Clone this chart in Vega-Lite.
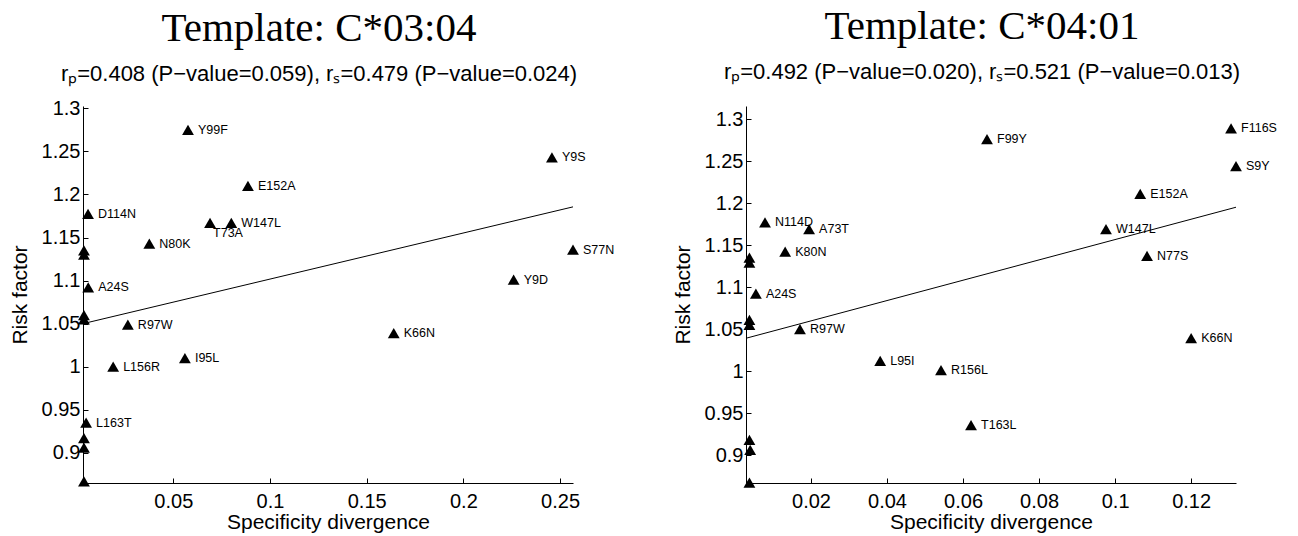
{
  "$schema": "https://vega.github.io/schema/vega-lite/v6.json",
  "background": "white",
  "padding": {"left": 9, "top": 6, "right": 5, "bottom": 5},
  "bounds": "flush",
  "spacing": 173,
  "datasets": {
    "pts1": [
      {"label": "Y99F", "x": 0.0576, "y": 1.275},
      {"label": "E152A", "x": 0.0886, "y": 1.210},
      {"label": "D114N", "x": 0.0059, "y": 1.1775},
      {"label": "T73A", "x": 0.069, "y": 1.167},
      {"label": "W147L", "x": 0.080, "y": 1.167},
      {"label": "N80K", "x": 0.0376, "y": 1.143},
      {"label": "", "x": 0.0038, "y": 1.135},
      {"label": "", "x": 0.0038, "y": 1.130},
      {"label": "A24S", "x": 0.006, "y": 1.092},
      {"label": "Y9S", "x": 0.2458, "y": 1.243},
      {"label": "S77N", "x": 0.2567, "y": 1.136},
      {"label": "Y9D", "x": 0.226, "y": 1.101},
      {"label": "", "x": 0.0038, "y": 1.060},
      {"label": "", "x": 0.0038, "y": 1.055},
      {"label": "R97W", "x": 0.0265, "y": 1.049},
      {"label": "L156R", "x": 0.0189, "y": 1.000},
      {"label": "I95L", "x": 0.056, "y": 1.010},
      {"label": "L163T", "x": 0.0049, "y": 0.935},
      {"label": "", "x": 0.0038, "y": 0.917},
      {"label": "", "x": 0.0038, "y": 0.906},
      {"label": "", "x": 0.0038, "y": 0.867},
      {"label": "K66N", "x": 0.164, "y": 1.039}
    ],
    "line1": [
      {"x": 0.0033, "y": 1.050},
      {"x": 0.2567, "y": 1.1856}
    ],
    "pts2": [
      {"label": "N114D", "x": 0.0079, "y": 1.177},
      {"label": "A73T", "x": 0.0195, "y": 1.169},
      {"label": "K80N", "x": 0.0132, "y": 1.142},
      {"label": "", "x": 0.0038, "y": 1.135},
      {"label": "", "x": 0.0038, "y": 1.129},
      {"label": "A24S", "x": 0.0055, "y": 1.092},
      {"label": "F99Y", "x": 0.0663, "y": 1.276},
      {"label": "F116S", "x": 0.1305, "y": 1.289},
      {"label": "S9Y", "x": 0.1318, "y": 1.244},
      {"label": "E152A", "x": 0.1066, "y": 1.211},
      {"label": "W147L", "x": 0.0976, "y": 1.169},
      {"label": "N77S", "x": 0.1084, "y": 1.137},
      {"label": "", "x": 0.0038, "y": 1.061},
      {"label": "", "x": 0.0038, "y": 1.055},
      {"label": "R97W", "x": 0.0171, "y": 1.050},
      {"label": "L95I", "x": 0.0382, "y": 1.012},
      {"label": "R156L", "x": 0.0542, "y": 1.001},
      {"label": "T163L", "x": 0.0621, "y": 0.9356},
      {"label": "", "x": 0.0038, "y": 0.918},
      {"label": "", "x": 0.0040, "y": 0.906},
      {"label": "", "x": 0.0038, "y": 0.867},
      {"label": "K66N", "x": 0.1200, "y": 1.0393}
    ],
    "line2": [
      {"x": 0.0029, "y": 1.039},
      {"x": 0.1318, "y": 1.195}
    ]
  },
  "hconcat": [
    {
      "width": 490,
      "height": 377,
      "title": {
        "text": "Template:  C*03:04",
        "subtitle": "rₚ=0.408 (P−value=0.059), rₛ=0.479 (P−value=0.024)",
        "frame": "group",
        "anchor": "middle",
        "dx": -9,
        "offset": 12
      },
      "encoding": {
        "x": {"field": "x", "type": "quantitative", "scale": {"domain": [0.0033, 0.2567], "nice": false, "zero": false},
              "axis": {"title": "Specificity divergence", "values": [0.05, 0.1, 0.15, 0.2, 0.25], "format": "~g"}},
        "y": {"field": "y", "type": "quantitative", "scale": {"domain": [0.865, 1.3027], "nice": false, "zero": false},
              "axis": {"title": "Risk factor", "values": [0.9, 0.95, 1, 1.05, 1.1, 1.15, 1.2, 1.25, 1.3], "format": "~g"}}
      },
      "layer": [
        {"data": {"name": "line1"}, "mark": {"type": "line", "color": "black", "strokeWidth": 1}},
        {"data": {"name": "pts1"}, "mark": {"type": "point", "shape": "triangle-up", "filled": true, "color": "black", "opacity": 1, "size": 140}},
        {"data": {"name": "pts1"}, "transform": [{"filter": "datum.label != 'T73A'"}],
         "mark": {"type": "text", "align": "left", "baseline": "middle", "dx": 10, "font": "Liberation Sans", "fontSize": 12.5, "color": "black"},
         "encoding": {"text": {"field": "label", "type": "nominal"}}},
        {"data": {"name": "pts1"}, "transform": [{"filter": "datum.label == 'T73A'"}],
         "mark": {"type": "text", "align": "left", "baseline": "middle", "dx": 3, "dy": 10, "font": "Liberation Sans", "fontSize": 12.5, "color": "black"},
         "encoding": {"text": {"field": "label", "type": "nominal"}}}
      ]
    },
    {
      "width": 490,
      "height": 377,
      "title": {
        "text": "Template:  C*04:01",
        "subtitle": "rₚ=0.492 (P−value=0.020), rₛ=0.521 (P−value=0.013)",
        "frame": "group",
        "anchor": "middle",
        "dx": -9,
        "offset": 22
      },
      "encoding": {
        "x": {"field": "x", "type": "quantitative", "scale": {"domain": [0.0029, 0.1318], "nice": false, "zero": false},
              "axis": {"title": "Specificity divergence", "values": [0.02, 0.04, 0.06, 0.08, 0.1, 0.12], "format": "~g"}},
        "y": {"field": "y", "type": "quantitative", "scale": {"domain": [0.8667, 1.3155], "nice": false, "zero": false},
              "axis": {"title": "Risk factor", "values": [0.9, 0.95, 1, 1.05, 1.1, 1.15, 1.2, 1.25, 1.3], "format": "~g"}}
      },
      "layer": [
        {"data": {"name": "line2"}, "mark": {"type": "line", "color": "black", "strokeWidth": 1}},
        {"data": {"name": "pts2"}, "mark": {"type": "point", "shape": "triangle-up", "filled": true, "color": "black", "opacity": 1, "size": 140}},
        {"data": {"name": "pts2"},
         "mark": {"type": "text", "align": "left", "baseline": "middle", "dx": 10, "font": "Liberation Sans", "fontSize": 12.5, "color": "black"},
         "encoding": {"text": {"field": "label", "type": "nominal"}}}
      ]
    }
  ],
  "config": {
    "view": {"stroke": null},
    "title": {
      "font": "Liberation Serif", "fontSize": 41, "fontWeight": "normal", "color": "black",
      "subtitleFont": "Liberation Sans", "subtitleFontSize": 22, "subtitleColor": "black",
      "subtitlePadding": 14
    },
    "axis": {
      "grid": false, "domainColor": "black", "tickColor": "black", "labelColor": "black", "titleColor": "black",
      "labelFont": "Liberation Sans", "titleFont": "Liberation Sans", "labelFontSize": 20, "titleFontSize": 21,
      "titleFontWeight": "normal", "tickSize": -5, "domainWidth": 1, "tickWidth": 1,
      "labelFlush": false, "labelOverlap": false
    },
    "axisX": {"labelPadding": 13, "titlePadding": 0},
    "axisY": {"labelPadding": 8, "titlePadding": 11}
  }
}
